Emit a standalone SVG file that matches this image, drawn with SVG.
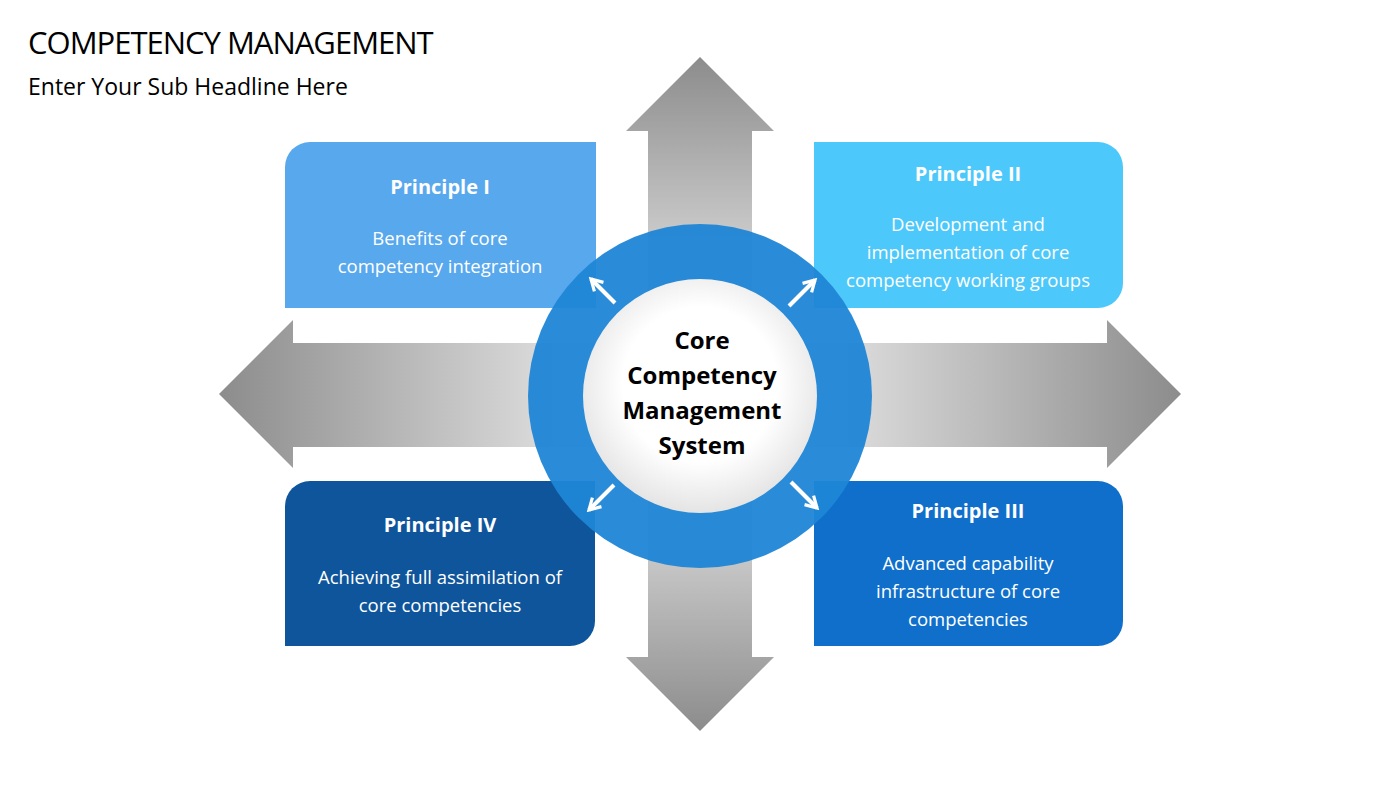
<svg xmlns="http://www.w3.org/2000/svg" width="1400" height="788" viewBox="0 0 1400 788">
<defs>
<linearGradient id="gv" x1="0" y1="57" x2="0" y2="731" gradientUnits="userSpaceOnUse">
<stop offset="0" stop-color="#8c8c8c"/><stop offset="0.5" stop-color="#ffffff"/><stop offset="1" stop-color="#8c8c8c"/></linearGradient>
<linearGradient id="gh" x1="219" y1="0" x2="1181" y2="0" gradientUnits="userSpaceOnUse">
<stop offset="0" stop-color="#8c8c8c"/><stop offset="0.5" stop-color="#ffffff"/><stop offset="1" stop-color="#8c8c8c"/></linearGradient>
<radialGradient id="gc" cx="0.5" cy="0.45" r="0.55"><stop offset="0.6" stop-color="#ffffff"/><stop offset="1" stop-color="#e4e4e4"/></radialGradient>
<marker id="ah" viewBox="0 0 10 10" refX="8" refY="5" markerWidth="4" markerHeight="4" orient="auto"><path d="M1,1 L8,5 L1,9" fill="none" stroke="#fff" stroke-width="2"/></marker>
<style>
.t{font-family:"Open Sans","Liberation Sans",sans-serif;fill:#fff;text-anchor:middle}
.h{font-weight:bold;font-size:20px}
.b{font-size:18.5px}
.c{font-family:"Open Sans","Liberation Sans",sans-serif;font-weight:bold;font-size:24px;text-anchor:middle;fill:#000}
</style>
</defs>
<rect width="1400" height="788" fill="#fff"/>
<text x="28" y="54" font-family="'Open Sans','Liberation Sans',sans-serif" font-size="31" fill="#000" letter-spacing="-1">COMPETENCY MANAGEMENT</text>
<text x="28" y="95" font-family="'Open Sans','Liberation Sans',sans-serif" font-size="23" fill="#000">Enter Your Sub Headline Here</text>
<g id="connectors">
<path d="M700,57 L774,131 L752,131 L752,657 L774,657 L700,731 L626,657 L648,657 L648,131 L626,131 Z" fill="url(#gv)"/>
<path d="M219,394 L293,320 L293,343 L1107,343 L1107,320 L1181,394 L1107,468 L1107,447 L293,447 L293,468 Z" fill="url(#gh)"/>
</g>
<g id="p1"><path d="M310,142 H596 V308 H285 V167 A25,25 0 0 1 310,142 Z" fill="#58a8ee"/>
<text class="t h" x="440" y="194">Principle I</text><text class="t b" x="440" y="245">Benefits of core</text><text class="t b" x="440" y="273">competency integration</text></g>
<g id="p2"><path d="M814,142 H1098 A25,25 0 0 1 1123,167 V283 A25,25 0 0 1 1098,308 H814 Z" fill="#4dc8fb"/>
<text class="t h" x="968" y="181">Principle II</text><text class="t b" x="968" y="231">Development and</text><text class="t b" x="968" y="259">implementation of core</text><text class="t b" x="968" y="287">competency working groups</text></g>
<g id="p4"><path d="M310,481 H595 V621 A25,25 0 0 1 570,646 H285 V506 A25,25 0 0 1 310,481 Z" fill="#0f559b"/>
<text class="t h" x="440" y="532">Principle IV</text><text class="t b" x="440" y="584">Achieving full assimilation of</text><text class="t b" x="440" y="612">core competencies</text></g>
<g id="p3"><path d="M814,481 H1098 A25,25 0 0 1 1123,506 V621 A25,25 0 0 1 1098,646 H814 Z" fill="#0f6fcb"/>
<text class="t h" x="968" y="518">Principle III</text><text class="t b" x="968" y="570">Advanced capability</text><text class="t b" x="968" y="598">infrastructure of core</text><text class="t b" x="968" y="626">competencies</text></g>
<g id="core">
<circle cx="700" cy="396" r="172" fill="#1f86d6" opacity="0.95"/>
<circle cx="700" cy="396" r="117" fill="url(#gc)"/>
<text class="c" x="702" y="349">Core</text><text class="c" x="702" y="384">Competency</text><text class="c" x="702" y="419">Management</text><text class="c" x="702" y="454">System</text>
<g stroke="#fff" stroke-width="4" marker-end="url(#ah)">
<line x1="615" y1="303" x2="591" y2="279"/><line x1="789" y1="306" x2="815" y2="280"/>
<line x1="614" y1="485" x2="589" y2="510"/><line x1="791" y1="482" x2="817" y2="508"/>
</g></g>
</svg>
